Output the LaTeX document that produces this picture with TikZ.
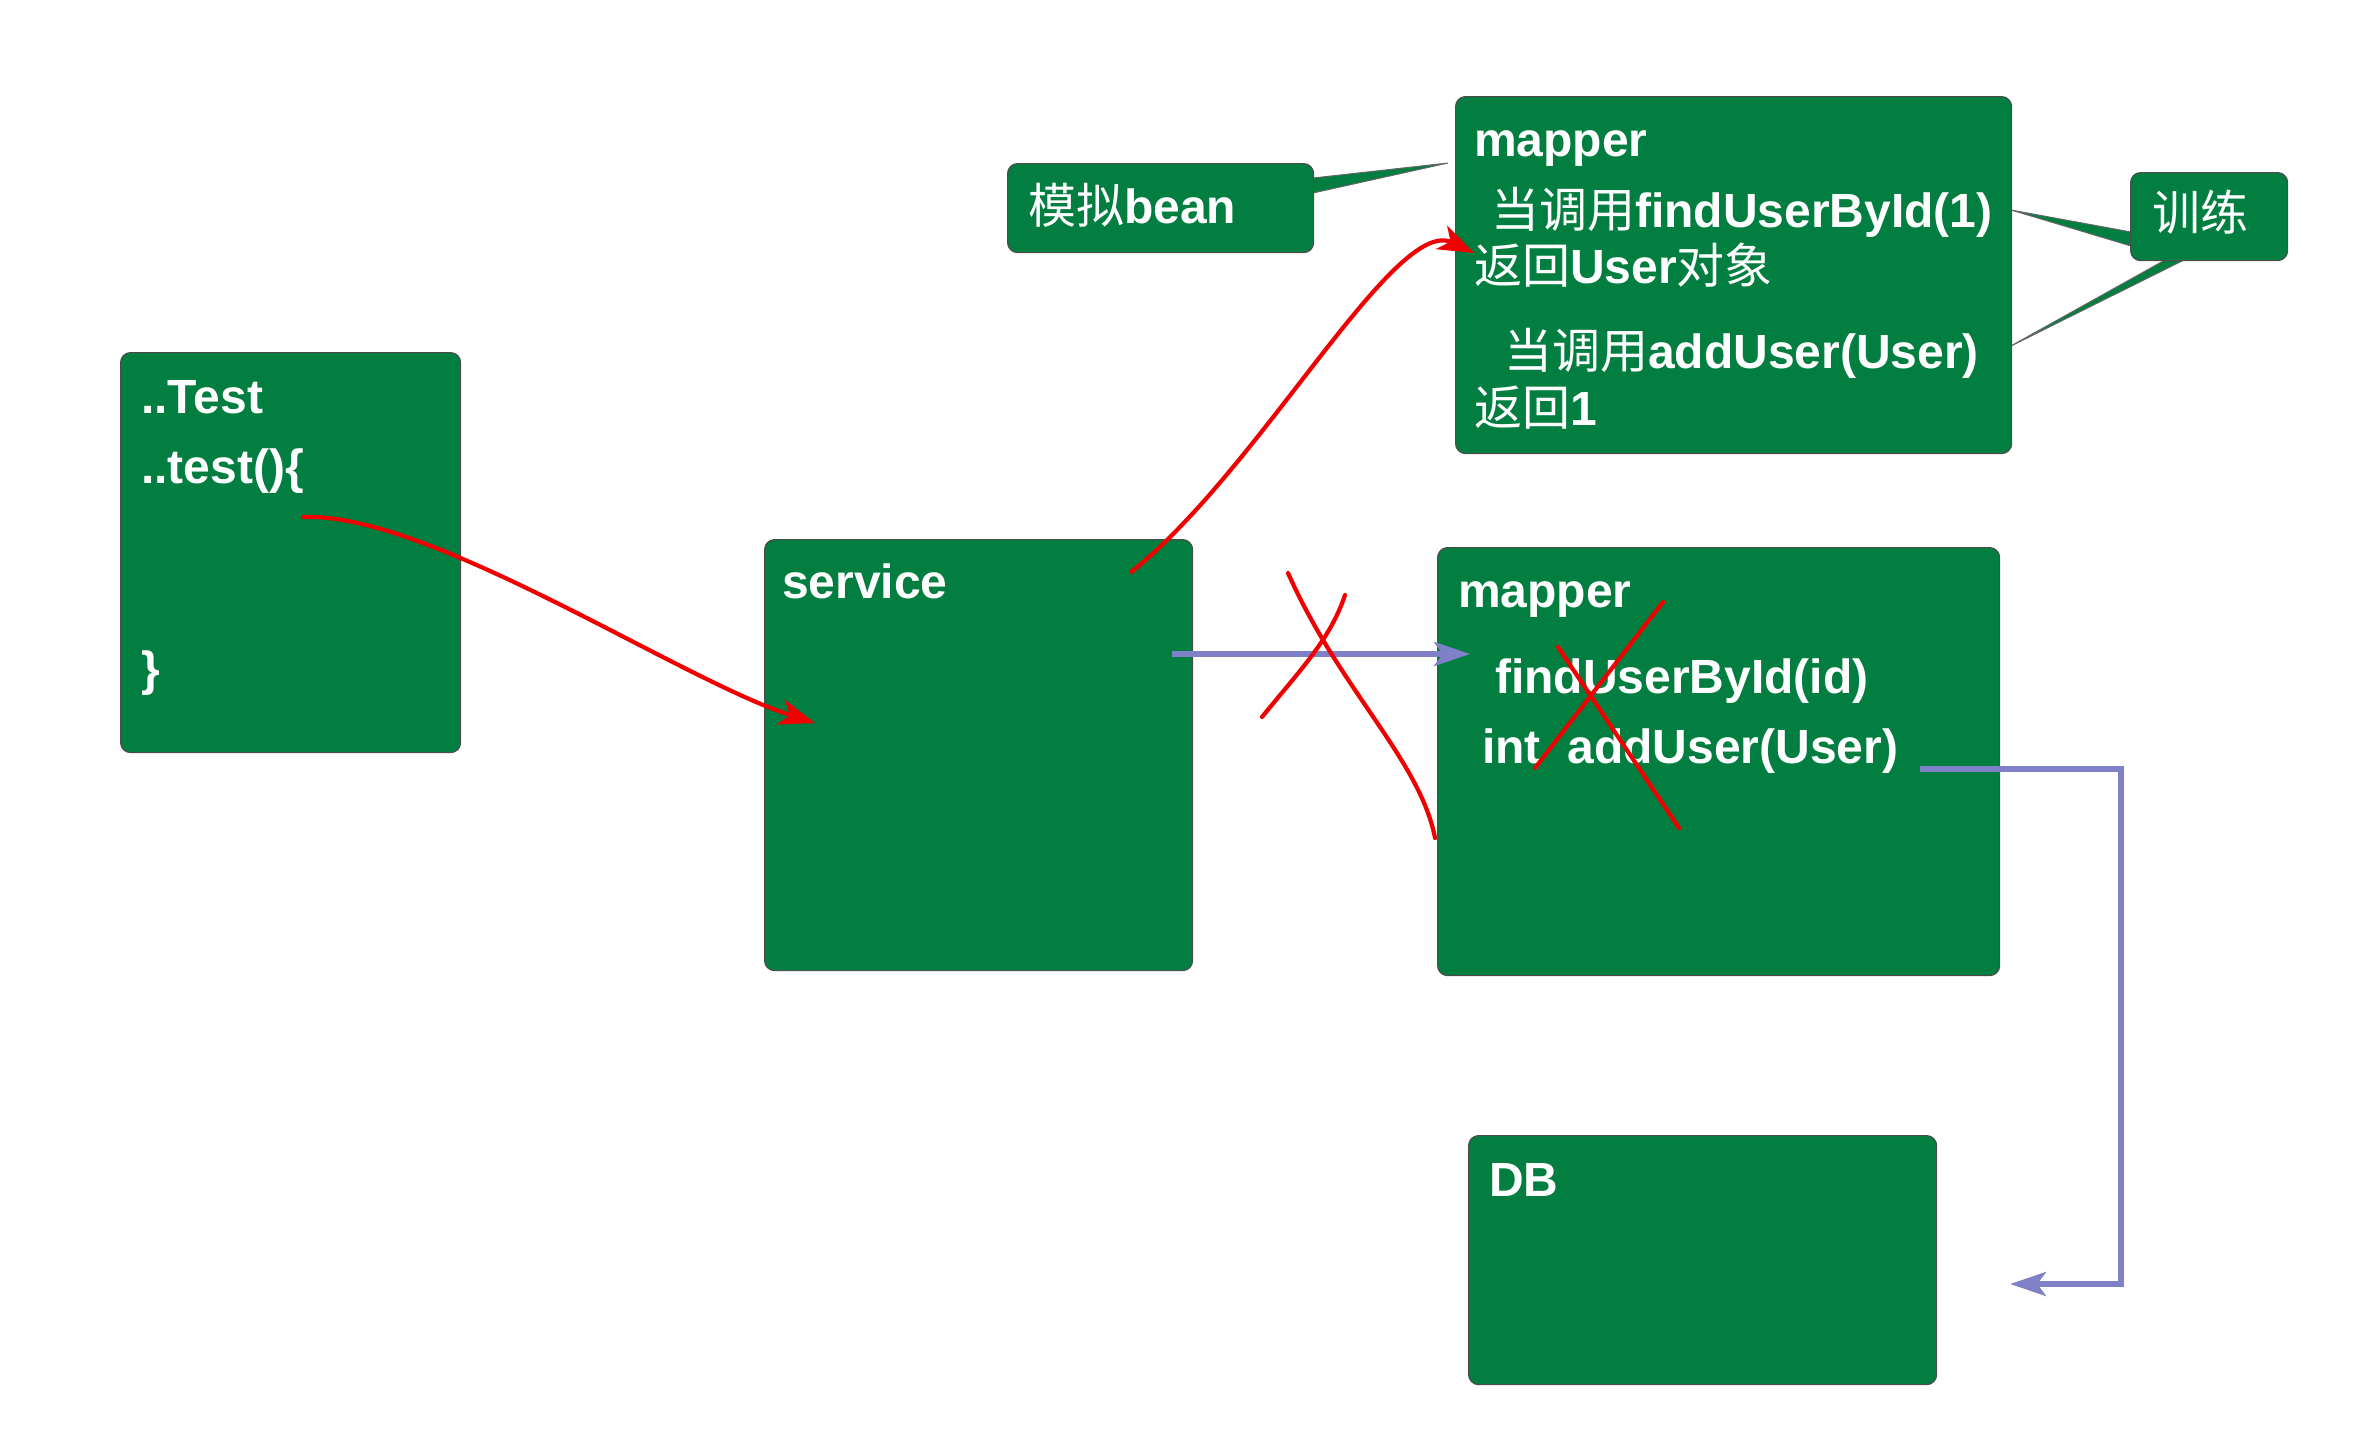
\documentclass[tikz,border=0pt]{standalone}
\usepackage{fontspec}
\setmainfont{Liberation Sans}
\newfontfamily\cjk{Noto Sans CJK SC}
\usetikzlibrary{arrows.meta}
\definecolor{boxgreen}{RGB}{2,127,64}
\definecolor{lilac}{RGB}{128,128,200}
\definecolor{pen}{RGB}{240,0,0}
\newcommand{\zh}[1]{{\cjk\mdseries #1}}
\begin{document}
\begin{tikzpicture}[x=1pt,y=-1pt,
  box/.style={draw=black!70, line width=1.2pt, fill=boxgreen, rounded corners=10pt, inner sep=0pt, anchor=north west},
  ptr/.style={draw=black!60, line width=1pt, fill=boxgreen, line join=miter},
  lbl/.style={anchor=base west, inner sep=0pt, text=white, font=\fontsize{48}{58}\selectfont\bfseries},
  redpen/.style={draw=pen, line width=4.2pt, line cap=round},
  redarrow/.style={redpen, -{Stealth[length=36pt,width=26pt,inset=10pt]}},
  lilacarrow/.style={draw=lilac, line width=5.5pt, -{Stealth[length=36pt,width=24pt,inset=9pt]}},
]
\useasboundingbox (0,0) rectangle (2363,1435);

% callout pointers (behind callouts)
\coordinate (beantip) at (1448,163);
\coordinate (drilltipA) at (2011,210);
\coordinate (drilltipB) at (2009,347);
\draw[ptr] (1313,178) -- (beantip) -- (1313,193) -- cycle;
\draw[ptr] (2131,232) -- (drilltipA) -- (2131,246) -- cycle;
\draw[ptr] (2165,260) -- (drilltipB) -- (2184,260) -- cycle;

% boxes
\node[box, minimum width=340pt, minimum height=400pt] (test) at (120,352) {};
\node[box, minimum width=428pt, minimum height=431pt] (service) at (764,539) {};
\node[box, minimum width=556pt, minimum height=357pt] (mockmapper) at (1455,96) {};
\node[box, minimum width=562pt, minimum height=428pt] (mapper) at (1437,547) {};
\node[box, minimum width=468pt, minimum height=249pt] (db) at (1468,1135) {};
\node[box, minimum width=306pt, minimum height=89pt] (bean) at (1007,163) {};
\node[box, minimum width=157pt, minimum height=88pt] (drill) at (2130,172) {};

% texts
\node[lbl] (t1) at (141,413) {..Test};
\node[lbl] (t2) at (141,483) {..test()\{};
\node[lbl] (t3) at (141,685) {\}};
\node[lbl] (s1) at (782,598) {service};
\node[lbl] (m1) at (1474,156) {mapper};
\node[lbl] (m2) at (1491,227) {\zh{当调用}findUserById(1)};
\node[lbl] (m3) at (1474,283) {\zh{返回}User\zh{对象}};
\node[lbl] (m4) at (1504,368) {\zh{当调用}addUser(User)};
\node[lbl] (m5) at (1474,425) {\zh{返回}1};
\node[lbl] (n1) at (1458,607) {mapper};
\node[lbl] (n2) at (1495,693) {findUserById(id)};
\node[lbl] (n3) at (1482,763) {int\ \ addUser(User)};
\node[lbl] (d1) at (1489,1196) {DB};
\node[lbl] (b1) at (1028,223) {\zh{模拟}bean};
\node[lbl] (x1) at (2152,230) {\zh{训练}};

% connector end points
\coordinate (testout) at (303,517);
\coordinate (servin) at (815,723);
\coordinate (servout) at (1131,572);
\coordinate (mockin) at (1474,253);
\coordinate (servcall) at (1172,654);
\coordinate (mapin) at (1470,654);
\coordinate (mapout) at (1920,769);
\coordinate (bend) at (2121,1284);
\coordinate (dbin) at (2010,1284);

% connectors
\draw[lilacarrow] (servcall) -- (mapin);
\draw[lilacarrow] (mapout) -| (bend) -- (dbin);
\draw[redarrow] (testout) .. controls (430,512) and (680,680) .. (servin);
\draw[redarrow] (servout) .. controls (1260,470) and (1395,215) .. (mockin);

% red crossing strokes
\draw[redpen] (1288,573) .. controls (1340,690) and (1420,760) .. (1435,838);
\draw[redpen] (1345,595) .. controls (1330,640) and (1300,670) .. (1262,717);
\draw[redpen] (1663,602) -- (1535,768);
\draw[redpen] (1558,647) -- (1679,828);
\end{tikzpicture}
\end{document}
